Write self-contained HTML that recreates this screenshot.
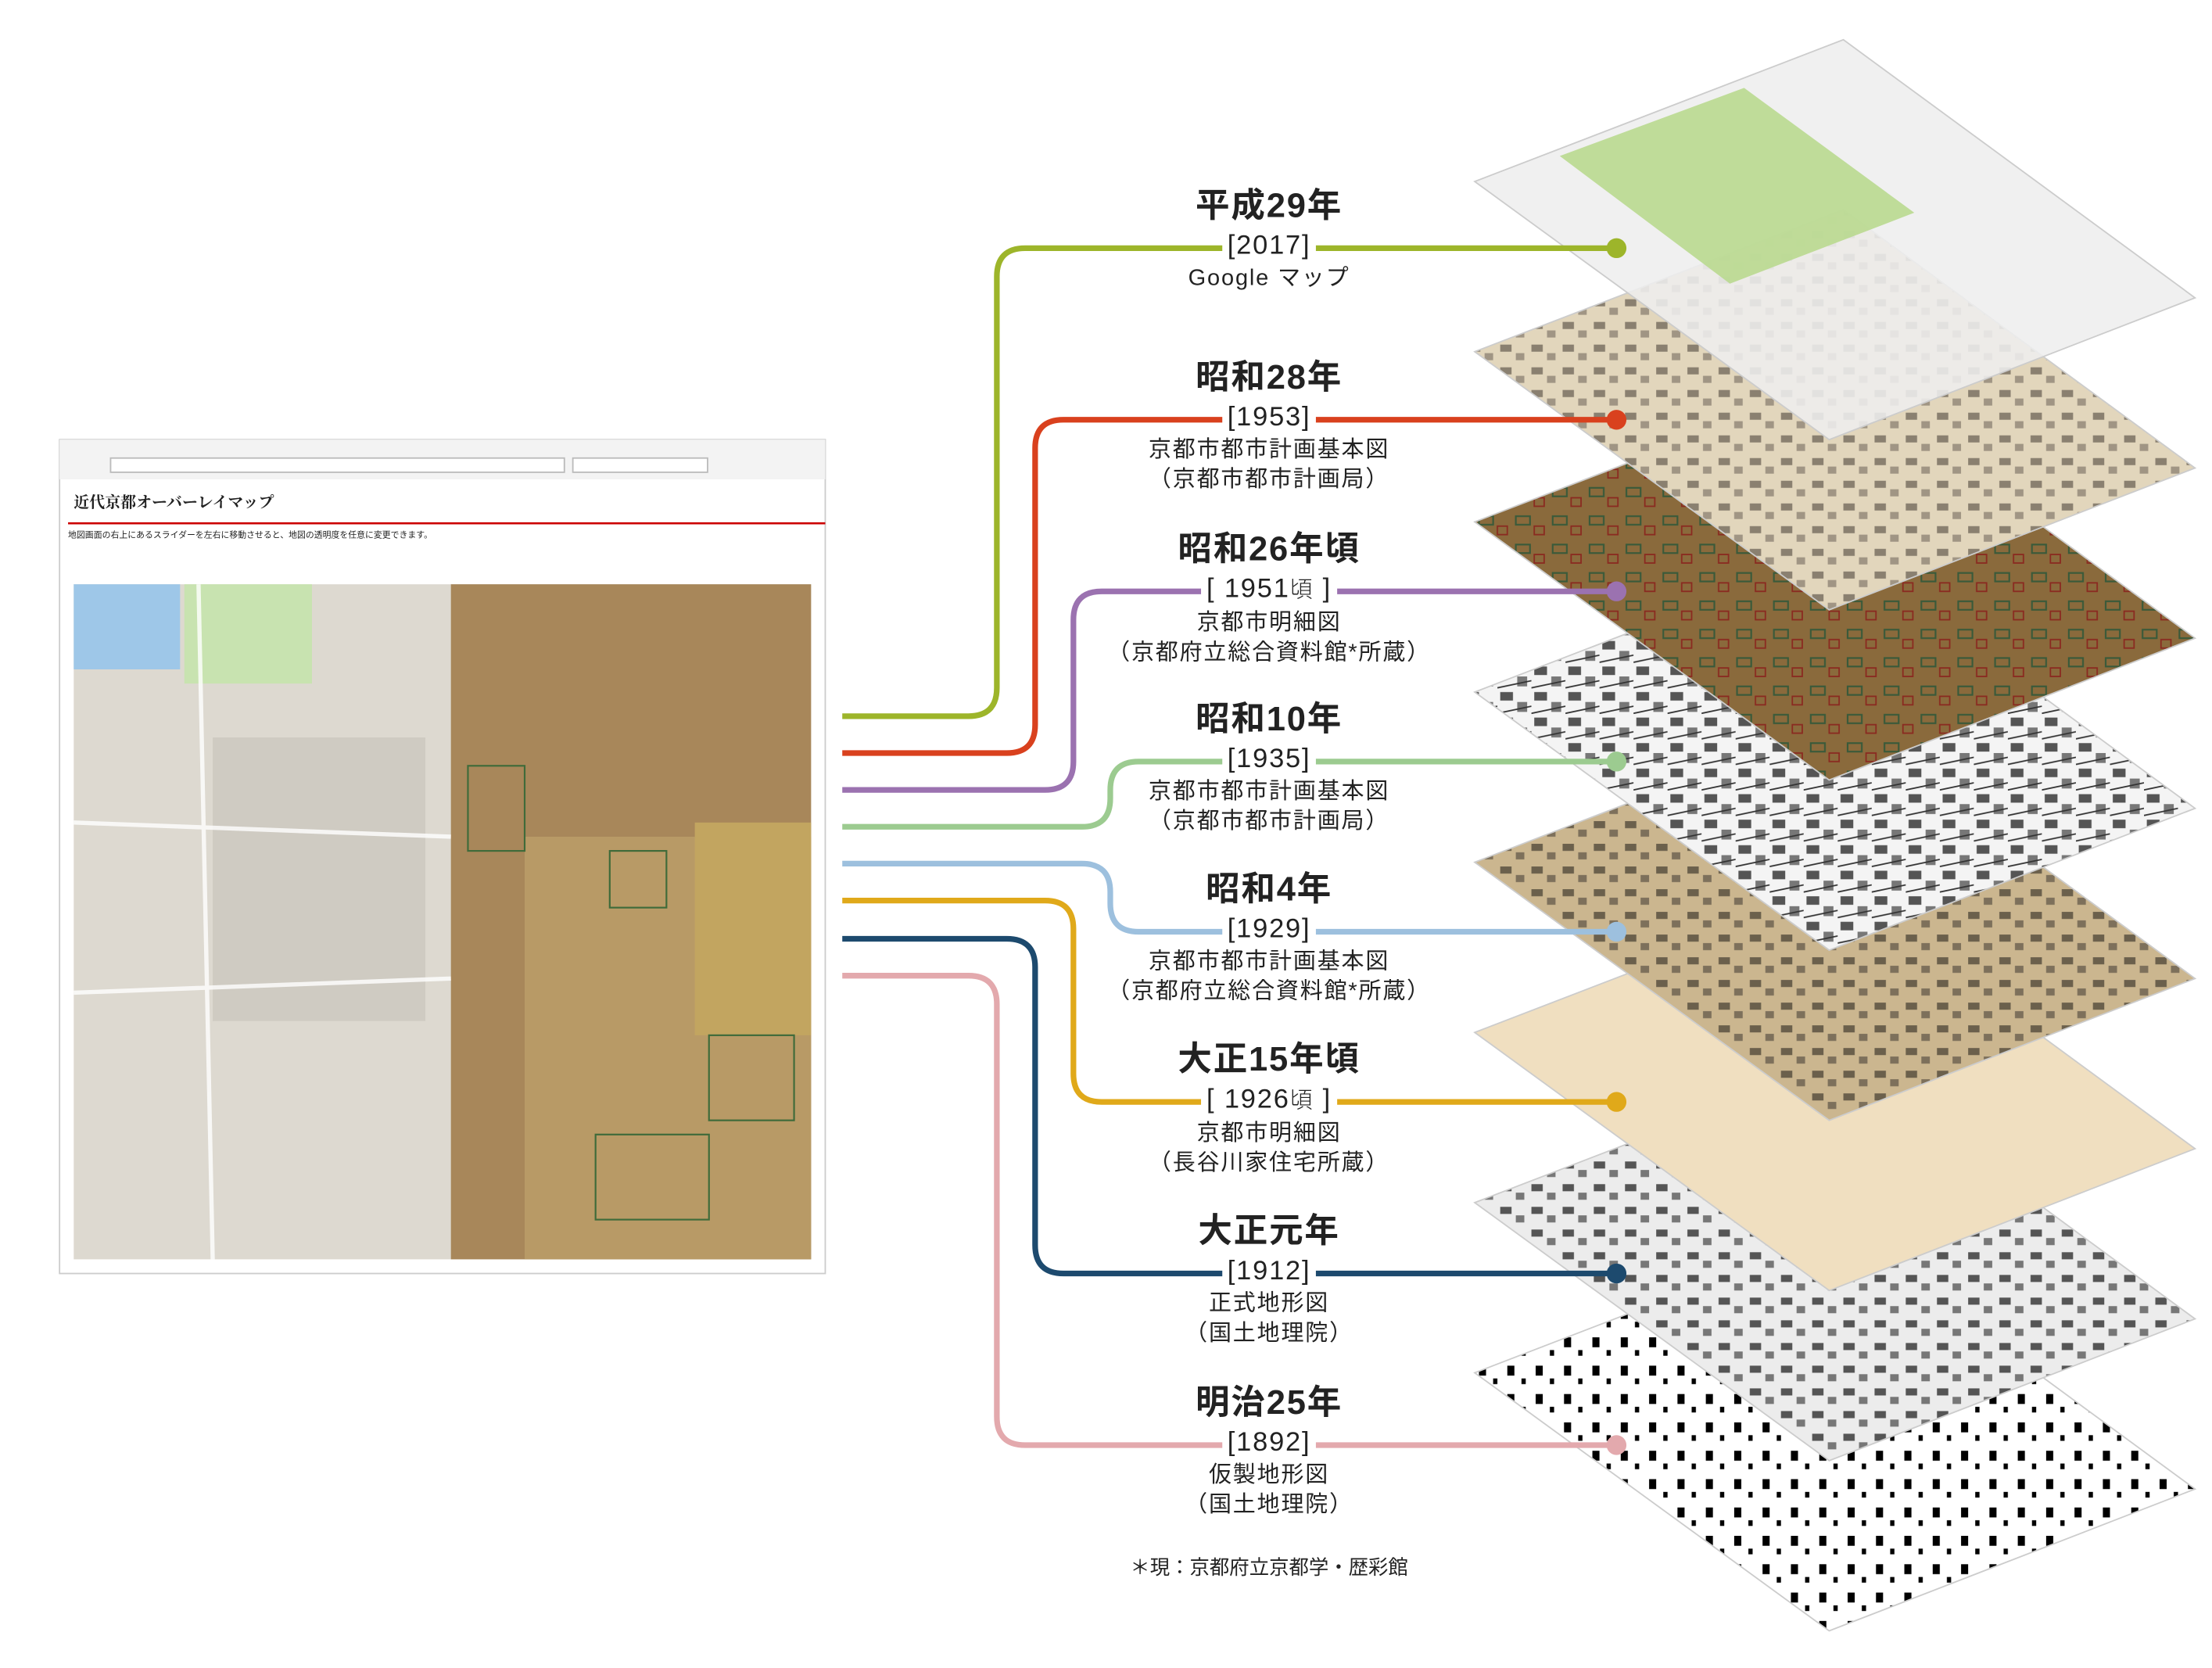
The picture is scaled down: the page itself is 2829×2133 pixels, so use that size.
<!DOCTYPE html>
<html><head><meta charset="utf-8">
<style>
html,body{margin:0;padding:0;background:#fff;overflow:hidden}
#wrap{position:absolute;left:0;top:0;width:1560px;height:1176px;transform:scale(1.8135);transform-origin:0 0;font-family:"Liberation Sans","Noto Sans CJK JP",sans-serif;color:#222}
.lbl{position:absolute;width:300px;left:745px;text-align:center}
.t{font-weight:bold;font-size:24px;line-height:28px;letter-spacing:1px}
.y{font-size:19px;line-height:24px;margin:2px auto 0;display:inline-block;background:#fff;padding:0 4px;letter-spacing:1px;font-weight:300}
.d{font-size:16px;line-height:21px;letter-spacing:1px}
</style></head><body><div id="wrap">
<svg width="1560" height="1176" style="position:absolute;left:0;top:0">
<defs>
<pattern id="bw" width="24" height="18" patternUnits="userSpaceOnUse"><rect width="24" height="18" fill="#f4f4f4"/><rect x="2" y="2" width="9" height="6" fill="#555"/><rect x="14" y="9" width="7" height="7" fill="#777"/><path d="M0 17 L24 12" stroke="#333" stroke-width="1"/></pattern>
<pattern id="bg1" width="22" height="16" patternUnits="userSpaceOnUse"><rect width="22" height="16" fill="#e2d6bc"/><rect x="2" y="3" width="8" height="5" fill="#8a8070"/><rect x="13" y="9" width="6" height="5" fill="#a09584"/></pattern>
<pattern id="bg2" width="22" height="16" patternUnits="userSpaceOnUse"><rect width="22" height="16" fill="#cbb68f"/><rect x="2" y="3" width="8" height="5" fill="#6b604c"/><rect x="13" y="9" width="6" height="5" fill="#7d705b"/></pattern>
<pattern id="bg3" width="22" height="16" patternUnits="userSpaceOnUse"><rect width="22" height="16" fill="#ececec"/><rect x="2" y="3" width="8" height="5" fill="#555"/><rect x="13" y="9" width="6" height="5" fill="#777"/></pattern>
<pattern id="bg4" width="20" height="20" patternUnits="userSpaceOnUse"><rect width="20" height="20" fill="#fff"/><rect x="3" y="3" width="5" height="7" fill="#000"/><rect x="13" y="12" width="3" height="4" fill="#000"/></pattern>
<pattern id="brown" width="26" height="20" patternUnits="userSpaceOnUse"><rect width="26" height="20" fill="#8a6a3c"/><rect x="3" y="4" width="10" height="6" fill="none" stroke="#3a5a3a" stroke-width="1.2"/><rect x="16" y="11" width="7" height="6" fill="none" stroke="#8a2a20" stroke-width="1"/></pattern>
</defs>
<g>
<polygon points="1040,968 1300,868 1548,1050 1290,1150" fill="url(#bg4)" stroke="#ccc"/>
<polygon points="1040,848 1300,748 1548,930 1290,1030" fill="url(#bg3)" stroke="#ccc"/>
<polygon points="1040,728 1300,628 1548,810 1290,910" fill="#f0dfc0" stroke="#ccc"/>
<polygon points="1040,608 1300,508 1548,690 1290,790" fill="url(#bg2)" stroke="#ccc"/>
<polygon points="1040,488 1300,388 1548,570 1290,670" fill="url(#bw)" stroke="#ccc"/>
<polygon points="1040,368 1300,268 1548,450 1290,550" fill="url(#brown)" stroke="#ccc"/>
<polygon points="1040,248 1300,148 1548,330 1290,430" fill="url(#bg1)" stroke="#ccc"/>
<polygon points="1040,128 1300,28 1548,210 1290,310" fill="#eeeeee" fill-opacity="0.88" stroke="#ccc"/>
<polygon points="1100,110 1230,62 1350,150 1220,200" fill="#b9d98f" fill-opacity="0.9"/>
</g>
<rect x="42" y="310" width="540" height="588" fill="#fff" stroke="#ccc"/>
<rect x="42" y="310" width="540" height="28" fill="#f3f3f3"/>
<rect x="78" y="323" width="320" height="10" fill="#fff" stroke="#bbb"/>
<rect x="404" y="323" width="95" height="10" fill="#fff" stroke="#bbb"/>
<line x1="48" y1="369" x2="582" y2="369" stroke="#c00" stroke-width="1.5"/>
<rect x="52" y="412" width="520" height="476" fill="#ddd9d0"/>
<rect x="52" y="412" width="75" height="60" fill="#9ec7e8"/>
<rect x="130" y="412" width="90" height="70" fill="#c8e3b0"/>
<rect x="318" y="412" width="254" height="476" fill="#a8875a"/>
<rect x="370" y="590" width="202" height="298" fill="#b89a66"/>
<rect x="490" y="580" width="82" height="150" fill="#c2a560"/>
<rect x="150" y="520" width="150" height="200" fill="#cfcbc2"/>
<g stroke="#fff" stroke-width="3" fill="none" opacity="0.8"><path d="M52 700 L318 690"/><path d="M140 412 L150 888"/><path d="M52 580 L318 590"/></g>
<g stroke="#3f6b3a" stroke-width="1.2" fill="none"><rect x="330" y="540" width="40" height="60"/><rect x="430" y="600" width="40" height="40"/><rect x="500" y="730" width="60" height="60"/><rect x="420" y="800" width="80" height="60"/></g>
<g fill="none" stroke-width="4">
<path d="M594 505 H683 Q703 505 703 485 V195 Q703 175 723 175 H1140" stroke="#9db52a"/>
<path d="M594 531 H710 Q730 531 730 511 V316 Q730 296 750 296 H1140" stroke="#d9411e"/>
<path d="M594 557 H737 Q757 557 757 537 V437 Q757 417 777 417 H1140" stroke="#9b72b0"/>
<path d="M594 583 H763 Q783 583 783 563 V557 Q783 537 803 537 H1140" stroke="#9ccb90"/>
<path d="M594 609 H763 Q783 609 783 629 V637 Q783 657 803 657 H1140" stroke="#9dc0de"/>
<path d="M594 635 H737 Q757 635 757 655 V757 Q757 777 777 777 H1140" stroke="#e0a91a"/>
<path d="M594 662 H710 Q730 662 730 682 V878 Q730 898 750 898 H1140" stroke="#1d4a6e"/>
<path d="M594 688 H683 Q703 688 703 708 V999 Q703 1019 723 1019 H1140" stroke="#e3a9ad"/>
</g>
<g>
<circle cx="1140" cy="175" r="7" fill="#9db52a"/><circle cx="1140" cy="296" r="7" fill="#d9411e"/>
<circle cx="1140" cy="417" r="7" fill="#9b72b0"/><circle cx="1140" cy="537" r="7" fill="#9ccb90"/>
<circle cx="1140" cy="657" r="7" fill="#9dc0de"/><circle cx="1140" cy="777" r="7" fill="#e0a91a"/>
<circle cx="1140" cy="898" r="7" fill="#1d4a6e"/><circle cx="1140" cy="1019" r="7" fill="#e3a9ad"/>
</g>
</svg>
<div style="position:absolute;left:52px;top:346px;font-size:11px;font-weight:bold;font-family:'Liberation Serif','Noto Serif CJK SC',serif">近代京都オーバーレイマップ</div>
<div style="position:absolute;left:48px;top:372px;font-size:6px">地図画面の右上にあるスライダーを左右に移動させると、地図の透明度を任意に変更できます。</div>

<div class="lbl" style="top:132px"><div class="t">平成29年</div><div class="y">[2017]</div><div class="d">Google マップ</div></div>
<div class="lbl" style="top:253px"><div class="t">昭和28年</div><div class="y">[1953]</div><div class="d">京都市都市計画基本図<br>（京都市都市計画局）</div></div>
<div class="lbl" style="top:374px"><div class="t">昭和26年頃</div><div class="y">[ 1951<small>頃</small> ]</div><div class="d">京都市明細図<br>（京都府立総合資料館*所蔵）</div></div>
<div class="lbl" style="top:494px"><div class="t">昭和10年</div><div class="y">[1935]</div><div class="d">京都市都市計画基本図<br>（京都市都市計画局）</div></div>
<div class="lbl" style="top:614px"><div class="t">昭和4年</div><div class="y">[1929]</div><div class="d">京都市都市計画基本図<br>（京都府立総合資料館*所蔵）</div></div>
<div class="lbl" style="top:734px"><div class="t">大正15年頃</div><div class="y">[ 1926<small>頃</small> ]</div><div class="d">京都市明細図<br>（長谷川家住宅所蔵）</div></div>
<div class="lbl" style="top:855px"><div class="t">大正元年</div><div class="y">[1912]</div><div class="d">正式地形図<br>（国土地理院）</div></div>
<div class="lbl" style="top:976px"><div class="t">明治25年</div><div class="y">[1892]</div><div class="d">仮製地形図<br>（国土地理院）</div></div>
<div class="lbl" style="top:1095px;font-size:14px">＊現：京都府立京都学・歴彩館</div>
</div></body></html>
